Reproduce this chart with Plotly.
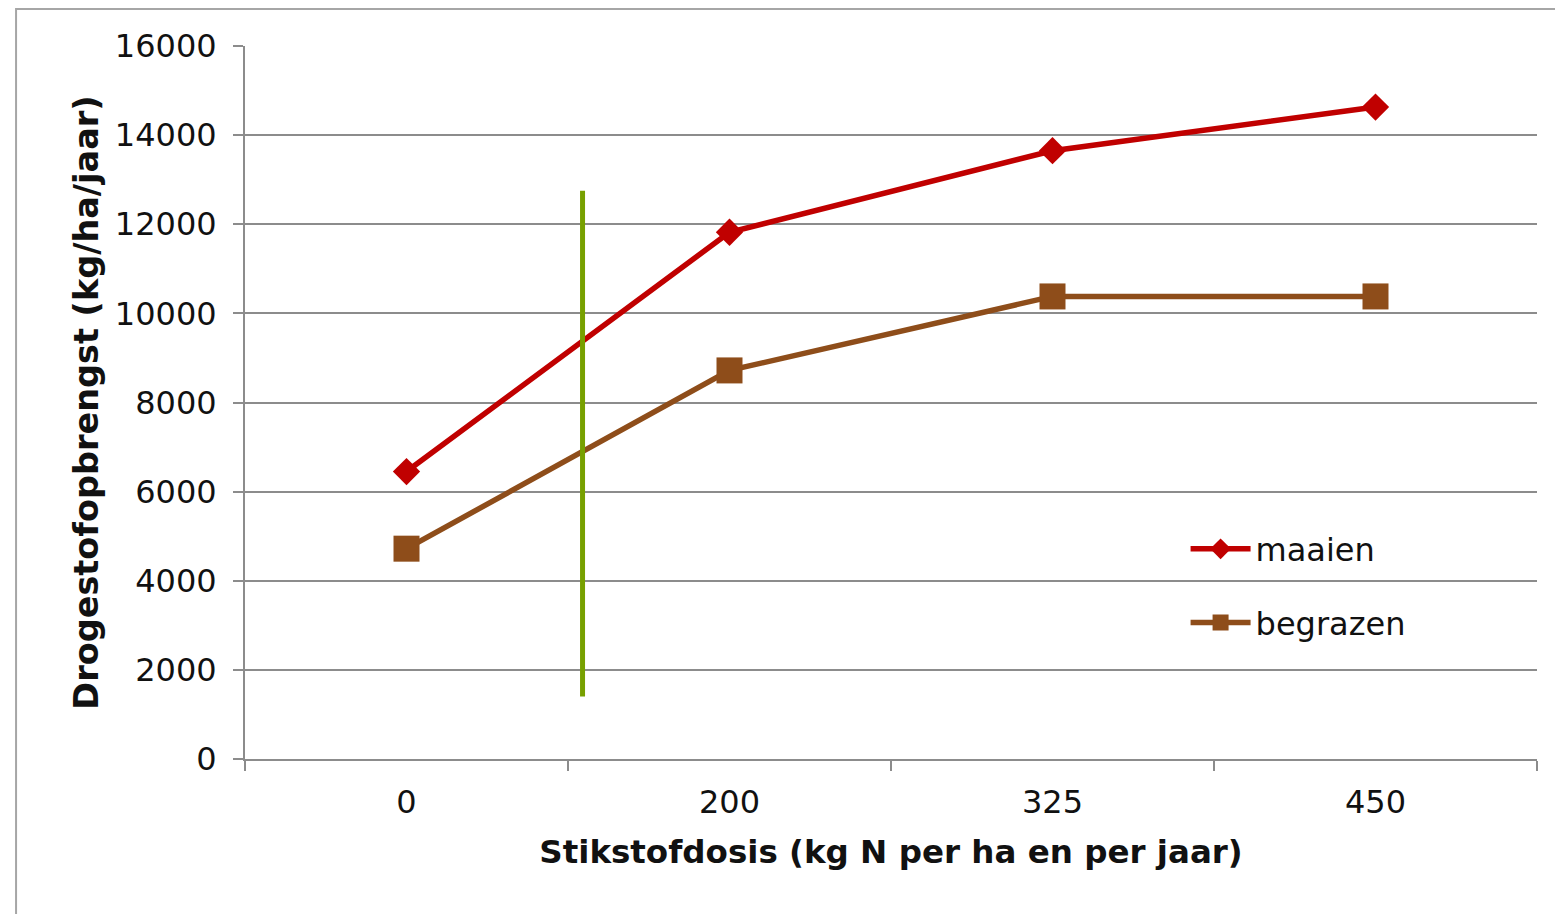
import plotly.graph_objects as go

categories = ["0", "200", "325", "450"]
maaien = [6450, 11820, 13650, 14630]
begrazen = [4720, 8720, 10380, 10380]
series_names = ["maaien", "begrazen"]
y_ticks = [0, 2000, 4000, 6000, 8000, 10000, 12000, 14000, 16000]
y_tick_labels = ["0", "2000", "4000", "6000", "8000", "10000", "12000", "14000", "16000"]
green_line_x = 0.545          # position between categories "0" and "200"
green_line_y = [1400, 12750]

FONT = "DejaVu Sans"
GRID = "#8c8c8c"
TXT = "#111111"

fig = go.Figure()
fig.add_trace(go.Scatter(
    x=categories, y=maaien, name=series_names[0], mode="lines+markers",
    line=dict(color="#C00000", width=5.5),
    marker=dict(symbol="diamond", size=21, color="#C00000"),
    legendgroup="a",
))
fig.add_trace(go.Scatter(
    x=categories, y=begrazen, name=series_names[1], mode="lines+markers",
    line=dict(color="#8E4D1A", width=5.5),
    marker=dict(symbol="square", size=26, color="#8E4D1A"),
    legendgroup="b",
))

fig.add_shape(type="line", xref="x", yref="y",
              x0=green_line_x, x1=green_line_x,
              y0=green_line_y[0], y1=green_line_y[1],
              line=dict(color="#77A000", width=5))

# outer chart border
fig.add_shape(type="rect", xref="paper", yref="paper",
              x0=-0.1772, x1=1.2, y0=1.052, y1=-0.4,
              line=dict(color="#a6a6a6", width=2), layer="below")

fig.update_layout(
    width=1555, height=906,
    margin=dict(l=237, r=26, t=38, b=155),
    paper_bgcolor="white", plot_bgcolor="white",
    font=dict(family=FONT, size=32, color=TXT),
    showlegend=True,
    legend=dict(x=0.728, y=0.2426, xanchor="left", yanchor="middle",
                bgcolor="rgba(0,0,0,0)", traceorder="grouped",
                tracegroupgap=29, itemwidth=60,
                font=dict(family=FONT, size=32, color=TXT)),
    xaxis=dict(
        type="category", categoryorder="array", categoryarray=categories,
        range=[-0.5, 3.5],
        showgrid=False, showline=True, linecolor=GRID, linewidth=2,
        ticks="outside", tickson="boundaries", ticklen=10, tickwidth=2,
        tickcolor=GRID, zeroline=False, ticklabelstandoff=14,
        tickfont=dict(family=FONT, size=32, color=TXT),
        title=dict(text="<b>Stikstofdosis (kg N per ha en per jaar)</b>",
                   font=dict(family=FONT, size=32.5, color=TXT), standoff=20),
    ),
    yaxis=dict(
        range=[0, 16000], tickvals=y_ticks, ticktext=y_tick_labels,
        showgrid=True, gridcolor=GRID, gridwidth=2,
        showline=True, linecolor=GRID, linewidth=2,
        ticks="outside", ticklen=10, tickwidth=2, tickcolor=GRID,
        zeroline=False, ticklabelstandoff=10,
        tickfont=dict(family=FONT, size=32, color=TXT),
        title=dict(text="<b>Drogestofopbrengst (kg/ha/jaar)</b>",
                   font=dict(family=FONT, size=33.5, color=TXT), standoff=6),
    ),
)

fig.write_html("out.html")
